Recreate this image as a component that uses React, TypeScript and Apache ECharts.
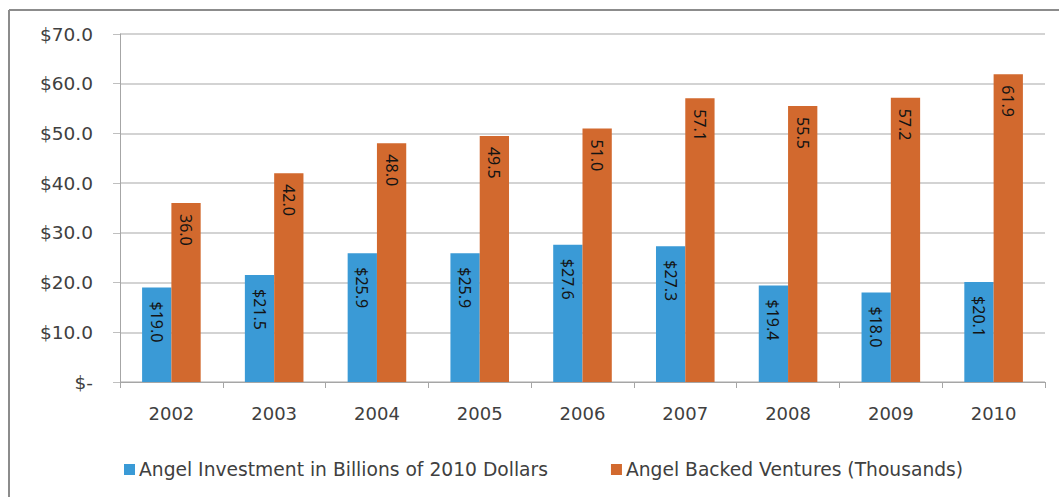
import React, { useEffect, useRef } from "react";
import * as echarts from "echarts";

const years = ["2002", "2003", "2004", "2005", "2006", "2007", "2008", "2009", "2010"];
const investment = [19.0, 21.5, 25.9, 25.9, 27.6, 27.3, 19.4, 18.0, 20.1];
const ventures = [36.0, 42.0, 48.0, 49.5, 51.0, 57.1, 55.5, 57.2, 61.9];
const seriesNames = [
  "Angel Investment in Billions of 2010 Dollars",
  "Angel Backed Ventures (Thousands)",
];

const BLUE = "#3a9ad6";
const ORANGE = "#d2692e";
const FONT = "'DejaVu Sans', sans-serif";
const LABEL_FONT = "'Noto Sans', sans-serif";

export default function App() {
  const ref = useRef<HTMLDivElement>(null);

  useEffect(() => {
    document.body.style.margin = "0";
    if (!ref.current) return;
    const chart = echarts.init(ref.current, undefined, { renderer: "svg" });
    const labelBase = {
      show: true,
      position: "insideTop" as const,
      rotate: -90,
      align: "left" as const,
      verticalAlign: "middle" as const,
      color: "#141414",
      fontFamily: LABEL_FONT,
      fontSize: 16,
    };
    chart.setOption({
      animation: false,
      backgroundColor: "#ffffff",
      grid: { left: 120, right: 14, top: 34, bottom: 115 },
      legend: {
        left: 124,
        top: 460,
        padding: 0,
        itemWidth: 11,
        itemHeight: 11,
        itemGap: 63,
        icon: "rect",
        textStyle: { fontFamily: FONT, fontSize: 18.7, color: "#404040", padding: [0, 0, 0, -1] },
        data: seriesNames,
      },
      xAxis: {
        type: "category",
        data: years,
        axisLine: { lineStyle: { color: "#a6a6a6", width: 1 } },
        axisTick: { show: true, length: 6, lineStyle: { color: "#a6a6a6" } },
        axisLabel: { fontFamily: FONT, fontSize: 18, color: "#404040", margin: 22 },
        splitLine: { show: false },
      },
      yAxis: {
        type: "value",
        min: 0,
        max: 70,
        interval: 10,
        axisLine: { show: true, lineStyle: { color: "#a6a6a6", width: 1 } },
        axisTick: { show: true, length: 7, lineStyle: { color: "#bfbfbf" } },
        axisLabel: {
          fontFamily: FONT,
          fontSize: 18.5,
          color: "#404040",
          margin: 27,
          formatter: (v: number) => (v === 0 ? "$-" : "$" + v.toFixed(1)),
        },
        splitLine: { show: true, lineStyle: { color: "#c4c4c4", width: 1.5 } },
      },
      series: [
        {
          name: seriesNames[0],
          type: "bar",
          data: investment,
          itemStyle: { color: BLUE },
          barGap: "0%",
          barCategoryGap: "43%",
          label: {
            ...labelBase,
            distance: 14,
            formatter: (p: any) => "$" + Number(p.value).toFixed(1),
          },
        },
        {
          name: seriesNames[1],
          type: "bar",
          data: ventures,
          itemStyle: { color: ORANGE },
          barGap: "0%",
          barCategoryGap: "43%",
          label: {
            ...labelBase,
            distance: 11,
            formatter: (p: any) => Number(p.value).toFixed(1),
          },
        },
      ],
      graphic: [
        {
          type: "line",
          shape: { x1: 9, y1: 10, x2: 1059, y2: 10 },
          style: { stroke: "#8c8c8c", lineWidth: 2 },
          silent: true,
        },
        {
          type: "line",
          shape: { x1: 9, y1: 10, x2: 9, y2: 497 },
          style: { stroke: "#8c8c8c", lineWidth: 2 },
          silent: true,
        },
      ],
    });
    return () => chart.dispose();
  }, []);

  return <div ref={ref} style={{ width: 1059, height: 497 }} />;
}
